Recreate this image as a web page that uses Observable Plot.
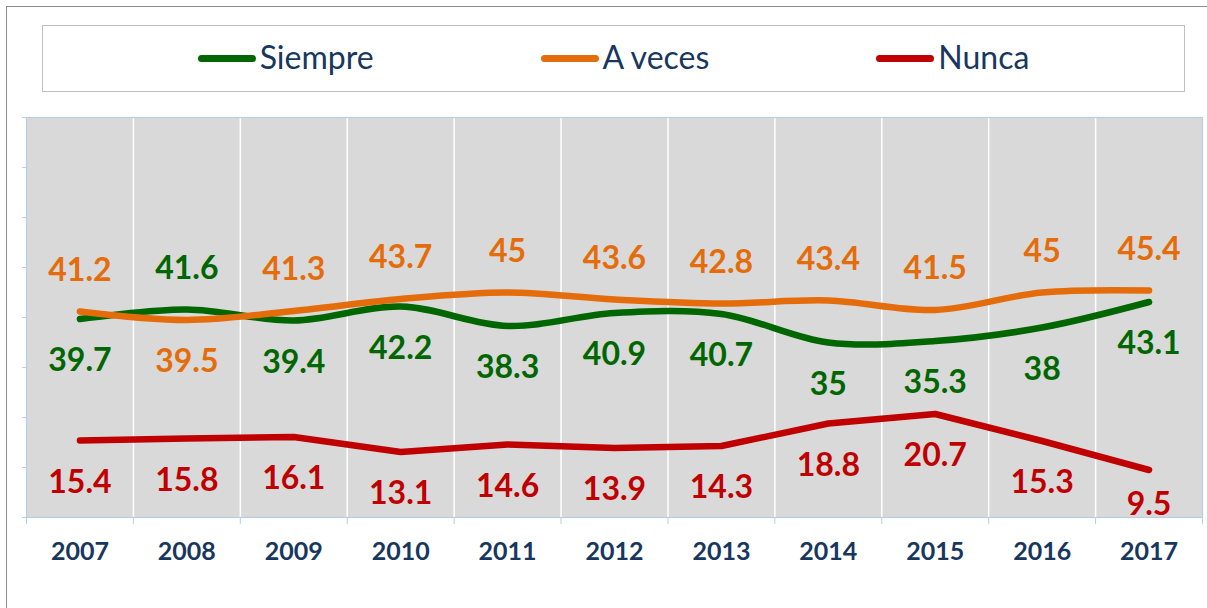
<!DOCTYPE html>
<html><head><meta charset="utf-8">
<script src="https://cdn.jsdelivr.net/npm/d3@7"></script>
<script src="https://cdn.jsdelivr.net/npm/@observablehq/plot@0.6"></script>
<style>
body{margin:0;background:#fff;font-family:Lato,"Noto Sans",sans-serif;}
#wrap{position:relative;width:1207px;height:608px;overflow:hidden;}
#border{position:absolute;left:6px;top:6px;width:1230px;height:640px;border:1.5px solid #8c8c8c;box-sizing:border-box;pointer-events:none;z-index:3;}
#legend{position:relative;height:115px;}
#legend .box{position:absolute;left:42px;top:25px;width:1143px;height:67px;border:1.5px solid #c0c0c0;box-sizing:border-box;display:flex;justify-content:center;align-items:center;gap:167px;padding-bottom:3px;}
.item{display:flex;align-items:center;font-size:32px;color:#17375e;line-height:1;}
.sw{width:58px;height:7px;border-radius:4px;margin-right:4px;margin-top:3px;}
#chart svg{display:block;}
</style></head>
<body><div id="wrap"><div id="legend"><div class="box"></div></div><div id="chart"></div><div id="border"></div></div>
<script>
const years = [2007, 2008, 2009, 2010, 2011, 2012, 2013, 2014, 2015, 2016, 2017];
const series = ["Siempre", "A veces", "Nunca"];
const colors = ["#006600", "#e46c0a", "#c00000"];
const siempre = [39.7, 41.6, 39.4, 42.2, 38.3, 40.9, 40.7, 35, 35.3, 38, 43.1];
const aVeces  = [41.2, 39.5, 41.3, 43.7, 45, 43.6, 42.8, 43.4, 41.5, 45, 45.4];
const nunca   = [15.4, 15.8, 16.1, 13.1, 14.6, 13.9, 14.3, 18.8, 20.7, 15.3, 9.5];
const yTicks = [0, 10, 20, 30, 40, 50, 60, 70, 80];

const values = [siempre, aVeces, nunca];
const rows = series.flatMap((s, i) => years.map((y, j) => {
  let above = false;
  if (s === "Siempre") above = siempre[j] > aVeces[j];
  if (s === "A veces") above = aVeces[j] > siempre[j];
  return {series: s, year: y, value: values[i][j], above};
}));

const legendBox = document.querySelector("#legend .box");
series.forEach((s, i) => {
  const it = document.createElement("div");
  it.className = "item";
  it.innerHTML = `<span class="sw" style="background:${colors[i]}"></span><span>${s}</span>`;
  legendBox.appendChild(it);
});

const boundaries = years.slice(0, -1).map(y => y + 0.5);
const edges = [years[0] - 0.5, ...boundaries, years[years.length - 1] + 0.5];
const axisBlue = "#b9cde5";
const belowGap = 8.4; // label offset in data units below the line
const yScaleStep = 5; // px per unit used for clamp

const chart = Plot.plot({
  width: 1207, height: 493,
  marginTop: 2, marginBottom: 91, marginLeft: 26, marginRight: 5,
  x: {domain: [years[0] - 0.5, years[years.length - 1] + 0.5], axis: null},
  y: {domain: [0, 80], axis: null},
  color: {domain: series, range: colors},
  style: {background: "transparent", overflow: "visible", fontFamily: "Lato, 'Noto Sans', sans-serif"},
  marks: [
    Plot.frame({fill: "#d9d9d9", stroke: null}),
    Plot.ruleX(boundaries, {stroke: "white", strokeWidth: 1.5}),
    Plot.frame({stroke: axisBlue, strokeWidth: 1.2}),
    Plot.axisY({ticks: yTicks, tickFormat: () => "", tickSize: 4, stroke: axisBlue, label: null}),
    Plot.axisX({ticks: edges, tickFormat: () => "", tickSize: 7, stroke: axisBlue, label: null}),
    Plot.text(years, {x: d => d, frameAnchor: "bottom", dy: 42, text: d => String(d),
      fontSize: 25, fontWeight: "bold", fill: "#17375e"}),
    Plot.line(rows.filter(d => d.series !== "Nunca"), {x: "year", y: "value", z: "series", stroke: "series",
      strokeWidth: 6.5, curve: "catmull-rom", strokeLinecap: "round", strokeLinejoin: "round"}),
    Plot.line(rows.filter(d => d.series === "Nunca"), {x: "year", y: "value", stroke: "series",
      strokeWidth: 6.5, curve: "linear", strokeLinecap: "round", strokeLinejoin: "round"}),
    Plot.text(rows.filter(d => d.above), {x: "year", y: "value", text: d => String(d.value), fill: "series",
      dy: -41, fontSize: 32, fontWeight: "bold"}),
    Plot.text(rows.filter(d => !d.above), {x: "year", y: d => Math.max(d.value - belowGap, 13 / yScaleStep),
      text: d => String(d.value), fill: "series", fontSize: 32, fontWeight: "bold"})
  ]
});
document.getElementById("chart").appendChild(chart);
</script></body></html>
